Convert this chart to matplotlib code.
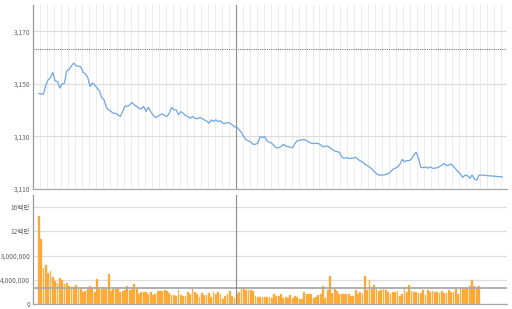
import numpy as np
import pandas as pd
import matplotlib
matplotlib.use("Agg")
import matplotlib.pyplot as plt
from matplotlib.ticker import FixedLocator

plt.rcParams['font.family'] = ['Noto Sans CJK KR', 'DejaVu Sans']

price_part1 = [
    3146.4, 3146.1, 3146.1, 3149.6, 3151.5, 3152.4, 3154.3, 3151.1, 3150.9, 3148.4,
    3149.9, 3150.3, 3155.0, 3155.5, 3156.9, 3157.9, 3156.9, 3156.7, 3156.5, 3154.4,
    3153.8, 3152.4, 3149.0, 3150.3, 3149.6, 3148.4, 3147.3, 3144.8, 3143.9, 3141.0,
    3140.1, 3139.5, 3138.8, 3138.8, 3138.2, 3137.6, 3139.5, 3141.6, 3141.4, 3142.0,
    3142.9, 3142.0, 3141.4, 3140.7, 3140.5, 3141.4, 3139.5, 3141.1, 3139.5, 3138.2,
    3137.2, 3137.6, 3138.2, 3138.6, 3137.9, 3137.6, 3138.8, 3141.0, 3140.1, 3140.1,
    3138.2, 3139.5, 3138.8, 3137.9, 3137.6, 3136.9, 3137.6, 3136.9, 3136.7, 3137.2,
    3136.9, 3136.3, 3135.9, 3135.0, 3136.3, 3135.7, 3136.3, 3135.7, 3135.9, 3135.0,
    3135.0, 3135.3, 3135.0, 3134.4, 3133.7, 3133.5, 3132.5, 3131.5, 3129.9, 3128.7,
    3128.3, 3127.8, 3127.0, 3127.0, 3127.4, 3129.9, 3129.6, 3129.9, 3128.3,
]
price_part2 = [
    3127.8, 3127.4, 3126.5, 3125.7, 3125.7, 3126.1, 3127.0, 3126.4, 3126.1, 3125.9,
    3125.7, 3127.4, 3128.4, 3128.5, 3128.7, 3128.8, 3128.4, 3127.8, 3127.4, 3127.3,
    3127.4, 3127.3, 3126.8, 3126.0, 3126.3, 3126.3, 3125.7, 3125.0, 3124.5, 3124.2,
    3124.0, 3122.3, 3121.7, 3121.9, 3121.6, 3121.7, 3121.7, 3122.1, 3121.3, 3120.7,
    3120.2, 3119.4, 3118.9, 3118.3, 3117.6, 3116.6, 3115.8, 3115.3, 3115.3, 3115.3,
    3115.6, 3115.8, 3116.5, 3117.5, 3117.9, 3118.4, 3119.4, 3121.2, 3120.4, 3120.8,
    3120.8, 3121.4, 3123.0, 3124.0, 3121.7, 3118.3, 3118.1, 3118.4, 3117.9, 3118.4,
    3117.9, 3117.9, 3118.1, 3118.5, 3119.1, 3119.7, 3118.9, 3119.1, 3119.5, 3118.6,
    3117.6, 3116.6, 3115.7, 3114.4, 3115.3, 3115.1, 3114.1, 3115.3, 3113.8, 3113.4,
    3115.3, 3115.3,
]
price_gap = [np.nan] * 8
price_last = [3114.6]
price = price_part1 + price_part2 + price_gap + price_last

volume_m = [
    14.5, 10.7, 6.0, 6.4, 5.05, 5.4, 4.4, 3.8, 3.5, 4.3, 3.95, 3.3, 3.5, 3.0, 2.85,
    2.8, 3.2, 2.5, 2.5, 2.0, 2.1, 2.6, 2.95, 2.6, 1.9, 4.2, 2.4, 2.4, 2.8, 2.4, 4.9,
    2.1, 2.5, 2.4, 2.7, 2.0, 2.1, 2.3, 2.9, 2.3, 2.5, 3.3, 2.7, 1.7, 2.0, 2.0, 2.0,
    1.7, 1.9, 1.5, 1.7, 2.1, 2.1, 2.1, 2.3, 2.1, 1.8, 1.5, 1.5, 1.3, 2.3, 1.5, 1.4,
    1.3, 2.0, 1.7, 2.4, 1.9, 1.6, 1.2, 1.8, 1.5, 1.5, 1.8, 1.2, 1.9, 1.6, 2.0, 1.7,
    0.8, 1.4, 1.7, 2.1, 1.3, 1.0, 1.6, 1.9, 2.6, 2.4, 2.3, 2.3, 2.3, 2.2,
    1.4, 1.2, 1.1, 1.1, 1.2, 1.1, 1.2, 1.0, 1.6, 1.4,
    1.4, 1.6, 1.0, 1.1, 1.0, 1.5, 1.0, 1.4, 1.2, 0.8,
    0.8, 2.0, 1.7, 1.7, 1.7, 1.0, 1.1, 1.5, 1.6, 2.9,
    1.0, 2.3, 4.7, 1.8, 2.4, 2.1, 1.6, 1.7, 1.7, 1.7,
    1.6, 1.3, 1.3, 2.3, 1.6, 1.9, 1.7, 4.6, 2.3, 3.9,
    2.8, 3.1, 2.5, 2.1, 2.3, 2.4, 2.3, 2.0, 1.7, 1.9,
    2.0, 2.1, 1.4, 1.7, 2.6, 2.0, 3.1, 2.1, 1.9, 1.9,
    1.8, 1.8, 2.3, 1.5, 2.3, 2.0, 2.2, 1.9, 1.9, 1.8,
    2.2, 1.8, 1.8, 2.3, 2.0, 2.0, 2.4, 1.6, 2.6, 2.5,
    2.5, 2.7, 3.0, 4.0, 3.0, 2.8, 2.9,
]
volume = [v * 1e6 for v in volume_m]

ref_price = 3163.3
avg_volume = 2.68e6
cursor_idx = 84.5

price_ticks = [3110, 3130, 3150, 3170]
price_labels = ['3,110', '3,130', '3,150', '3,170']
vol_ticks = [0, 4e6, 8e6, 12e6, 16e6]
vol_labels = ['0', '4,000,000', '8,000,000', '12백만', '16백만']

s = pd.Series(price).dropna()

fig = plt.figure(figsize=(5.12, 3.09), dpi=100)
ax1 = fig.add_axes([33/512, 120/309, 474/512, 184/309])
ax2 = fig.add_axes([33/512, 5/309, 474/512, 109/309])

xlim = (-2.5, 201)
vgrid = np.arange(0.5, 200, 3)

# price panel
ax1.set_xlim(*xlim)
ax1.set_ylim(3110, 3180)
for x in vgrid:
    ax1.axvline(x, color='#ececec', lw=0.7, zorder=0)
ax1.yaxis.set_major_locator(FixedLocator(price_ticks))
ax1.set_yticklabels(price_labels)
ax1.grid(axis='y', color='#dedede', lw=0.9, zorder=1)
ax1.plot(s.index, s.values, color='#6ea6e4', lw=0.9, zorder=3)
ax1.axhline(ref_price, color='#777777', lw=0.8, ls=(0, (1, 1)), zorder=2)
ax1.axvline(cursor_idx, color='#8c8c8c', lw=0.8, zorder=4)
ax1.set_xticks([])

# volume panel
ax2.set_xlim(*xlim)
ax2.set_ylim(0, 18e6)
ax2.yaxis.set_major_locator(FixedLocator(vol_ticks))
ax2.set_yticklabels(vol_labels)
ax2.grid(axis='y', color='#dedede', lw=0.9, zorder=0)
ax2.bar(np.arange(len(volume)), volume, width=0.78, color='#ffa028',
        edgecolor='#ffc468', linewidth=0.3, zorder=2)
ax2.axhline(avg_volume, color='#aaaaaa', lw=1.3, zorder=3)
ax2.axvline(cursor_idx, color='#8c8c8c', lw=0.8, zorder=4)
ax2.set_xticks([])

for ax in (ax1, ax2):
    ax.spines['top'].set_visible(False)
    ax.spines['right'].set_visible(False)
    ax.spines['left'].set_color('#999999')
    ax.spines['bottom'].set_color('#aaaaaa')
    ax.spines['left'].set_linewidth(0.9)
    ax.spines['bottom'].set_linewidth(0.9)
    ax.tick_params(axis='y', length=0, labelsize=4.8, labelcolor='#666666', pad=2)
    ax.set_axisbelow(True)

fig.savefig('out.png', dpi=100)
